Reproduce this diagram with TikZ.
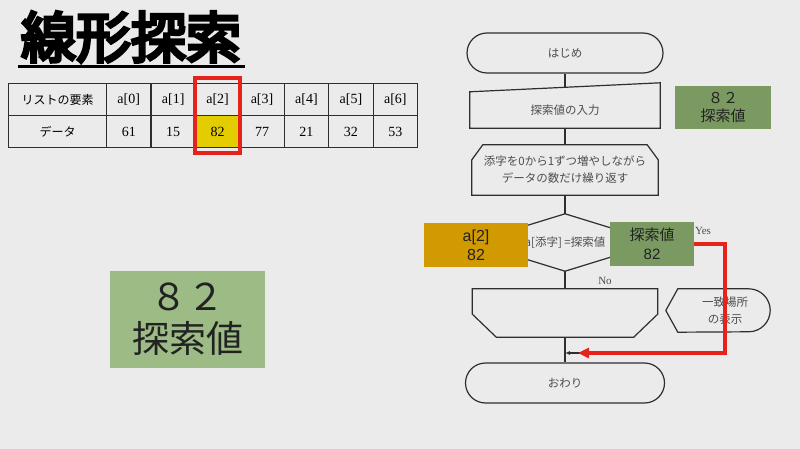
\documentclass[tikz,border=0pt]{standalone}
\usepackage{fontspec}
\setmainfont{Liberation Serif}
\setsansfont{Liberation Sans}
\newfontfamily\jp{Noto Sans CJK JP}
\newfontfamily\jpheavy[FakeBold=6]{Noto Sans CJK JP}
\usetikzlibrary{positioning,arrows.meta}
\definecolor{bg}{HTML}{EBEBEB}
\definecolor{paleGreen}{HTML}{9CBB85}
\definecolor{midGreen}{HTML}{7A9A62}
\definecolor{gold}{HTML}{D19A00}
\definecolor{cellYellow}{HTML}{E3CD00}
\definecolor{hiRed}{HTML}{E5231B}
\definecolor{flowDark}{HTML}{2E2E2E}
\definecolor{flowGray}{HTML}{4D4D4D}
\definecolor{textDark}{HTML}{222222}
\tikzstyle{cell} = [draw=flowDark, line width=1.1pt, rectangle, anchor=north west, minimum height=32pt, inner sep=0pt]
\tikzstyle{flowline} = [draw=flowDark, line width=1.2pt]
\tikzstyle{flowtext} = [rectangle, inner sep=0pt, text=flowGray, font=\jp\fontsize{11.5}{17}\selectfont, align=center]
\tikzstyle{terminal} = [flowtext, draw=flowDark, line width=1.2pt, rounded corners=20pt, minimum height=40pt]
\tikzstyle{tagbox} = [rectangle, inner sep=0pt, align=center, text=textDark]
\tikzstyle{label} = [text=flowGray, font=\fontsize{11}{13}\selectfont]

\begin{document}
\begin{tikzpicture}[x=1pt, y=-1pt, >=latex]
\fill [bg] (0,0) rectangle (800,449);
\useasboundingbox (0,0) rectangle (800,449);

% title
\node [font=\jpheavy\fontsize{55}{55}\selectfont, text=black] (title) at (131,37) {線形探索};
\draw [line width=3pt] (18,67) -- (245,67);

% table
\node [cell, minimum width=98pt, font=\jp\fontsize{12}{14}\selectfont] (head) at (8,83) {リストの要素};
\node [cell, minimum width=98pt, font=\jp\fontsize{12}{14}\selectfont] (datahead) at (8,115) {データ};
\foreach \i/\v/\c in {0/61/none,1/15/none,2/82/cellYellow,3/77/none,4/21/none,5/32/none,6/53/none}{
  \node [cell, minimum width=44.4pt, font=\fontsize{14}{16}\selectfont] (idx\i) at (106+\i*44.43,83) {a[\i]};
  \node [cell, minimum width=44.4pt, fill=\c, font=\fontsize{14}{16}\selectfont] (val\i) at (106+\i*44.43,115) {\v};
}
\draw [hiRed, line width=4pt] ([yshift=5pt]idx2.north west) rectangle ([yshift=-5pt]val2.south east);

\node [tagbox, fill=paleGreen, minimum width=155pt, minimum height=97pt, font=\jp\fontsize{37}{42}\selectfont] (bigkey) at (187.5,319.5) {８２\\探索値};

% flowchart
\node [terminal, minimum width=196pt] (start) at (565,53) {はじめ};
\node [flowtext, minimum width=190pt, minimum height=36pt] (input) at (565,110) {探索値の入力};
\draw [flowline] (input.south west) -- (input.south east) -- ([yshift=9pt]input.north east) -- (input.north west) -- cycle;
\node [flowtext, minimum width=186pt, minimum height=50pt] (loopA) at (565,170) {添字を0から1ずつ増やしながら\\データの数だけ繰り返す};
\draw [flowline] ([yshift=-15pt]loopA.north west) -- ([xshift=11pt]loopA.north west) -- ([xshift=-11pt]loopA.north east) -- ([yshift=-15pt]loopA.north east) -- (loopA.south east) -- (loopA.south west) -- cycle;
\node [flowtext, minimum width=186pt, minimum height=57pt] (test) at (565,242.5) {a[添字] =探索値};
\draw [flowline] (test.north) -- (test.east) -- (test.south) -- (test.west) -- cycle;
\node [flowtext, minimum width=185pt, minimum height=48pt] (loopB) at (565,313) {};
\draw [flowline] (loopB.north west) -- (loopB.north east) -- ([yshift=23pt]loopB.south east) -- ([xshift=-24pt]loopB.south east) -- ([xshift=24pt]loopB.south west) -- ([yshift=23pt]loopB.south west) -- cycle;
\node [terminal, minimum width=199pt] (stop) at (565,383) {おわり};
\node [flowtext, minimum width=104pt, minimum height=43pt] (show) at (718,310.5) {\hspace*{14pt}一致場所\\\hspace*{14pt}の表示};
\draw [flowline] (show.west) -- ([xshift=12pt]show.north west) -- ([xshift=-21.5pt]show.north east) arc (90:-90:21.5pt) -- ([xshift=12pt]show.south west) -- cycle;
\coordinate (join) at (565,353);

\draw [flowline, shorten >=4pt] (start) -- (input);
\draw [flowline] (input) -- (loopA);
\draw [flowline] (loopA) -- (test.north);
\draw [flowline] (test.south) -- (loopB);
\draw [flowline] (loopB) -- (stop);
\draw [flowline, -{Latex[length=5pt,width=4pt]}] ([xshift=7pt]show.south) |- (join);

\node [label, font=\fontsize{11}{13}\selectfont] (yes) at (703,231) {Yes};
\node [label, font=\fontsize{11}{13}\selectfont] (no) at (605,281) {No};

% value boxes
\node [tagbox, fill=gold, minimum width=104pt, minimum height=44pt, font=\sffamily\fontsize{16}{19}\selectfont] (found) at (476,245) {a[2]\\82};
\node [tagbox, fill=midGreen, minimum width=84pt, minimum height=44pt, font=\jp\fontsize{15}{19}\selectfont] (key) at (652,244) {探索値\\{\sffamily 82}};
\node [tagbox, fill=midGreen, minimum width=96pt, minimum height=43pt, font=\jp\fontsize{15}{18}\selectfont] (keyIn) at (723,107.5) {８２\\探索値};

\coordinate (bend) at (725,353);
\draw [hiRed, line width=3.5pt, -{Triangle[length=11pt,width=10pt]}] (key.east) -| (bend) -- ([xshift=13pt]join);
\end{tikzpicture}
\end{document}
